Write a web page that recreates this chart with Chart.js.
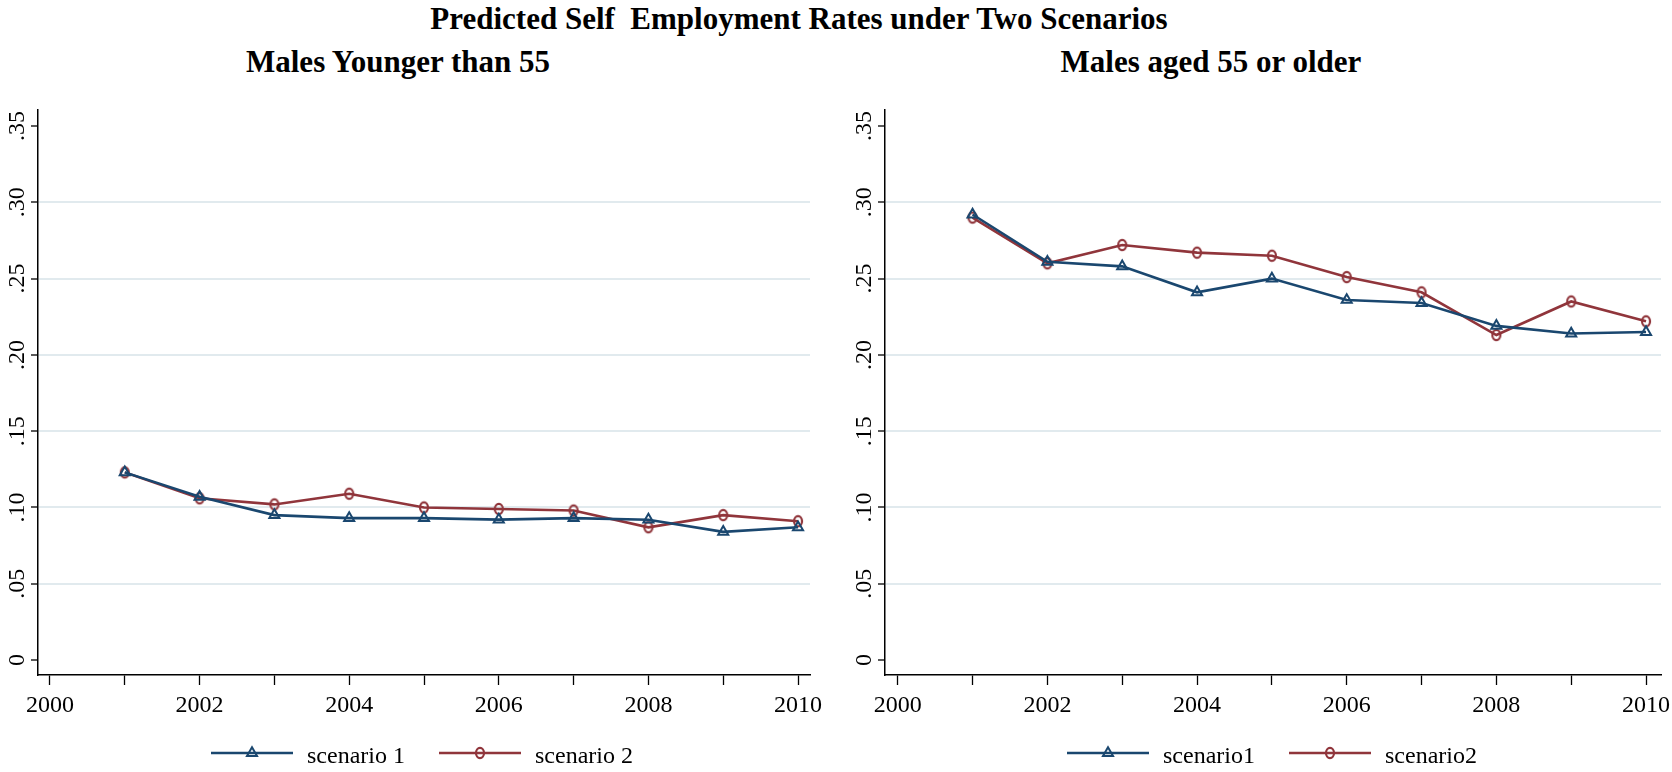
<!DOCTYPE html>
<html>
<head>
<meta charset="utf-8">
<script src="https://cdn.jsdelivr.net/npm/chart.js@4.4.0/dist/chart.umd.min.js"></script>
<style>
  body { margin: 0; background: #fff; width: 1672px; height: 772px; overflow: hidden; position: relative; font-family: 'Liberation Serif', serif; }
  .t { position: absolute; font-weight: bold; font-size: 31px; line-height: 31px; white-space: nowrap; transform: translateX(-50%); color: #000; }
  canvas { position: absolute; top: 0; }
</style>
</head>
<body>
<div class="t" style="left:799px;top:3px">Predicted Self&nbsp; Employment Rates under Two Scenarios</div>
<div class="t" style="left:398px;top:46px">Males Younger than 55</div>
<div class="t" style="left:1211px;top:46px">Males aged 55 or older</div>
<canvas id="young" width="836" height="772" style="left:0"></canvas>
<canvas id="older" width="836" height="772" style="left:836px"></canvas>
<script>
// values
const years = [2001, 2002, 2003, 2004, 2005, 2006, 2007, 2008, 2009, 2010];
const youngS1 = [0.123, 0.107, 0.095, 0.093, 0.093, 0.092, 0.093, 0.092, 0.084, 0.087];
const youngS2 = [0.123, 0.106, 0.102, 0.109, 0.100, 0.099, 0.098, 0.087, 0.095, 0.091];
const olderS1 = [0.292, 0.261, 0.258, 0.241, 0.250, 0.236, 0.234, 0.219, 0.214, 0.215];
const olderS2 = [0.290, 0.260, 0.272, 0.267, 0.265, 0.251, 0.241, 0.213, 0.235, 0.222];
const xTicks = [2000, 2001, 2002, 2003, 2004, 2005, 2006, 2007, 2008, 2009, 2010];
const yTicks = [0, 0.05, 0.10, 0.15, 0.20, 0.25, 0.30, 0.35];
const yLabels = ['0', '.05', '.10', '.15', '.20', '.25', '.30', '.35'];

const NAVY = '#1a476f';
const MAROON = '#90353b';
const GRID = '#e1eaee';
const FONT = 'Liberation Serif';

// hollow circle markers come out slightly taller than wide in the original
function hollowEllipse(color) {
  const c = document.createElement('canvas');
  c.width = 16; c.height = 18;
  const g = c.getContext('2d');
  g.strokeStyle = color; g.lineWidth = 2.2;
  g.beginPath(); g.ellipse(8, 9, 4, 5.1, 0, 0, Math.PI * 2); g.stroke();
  return c;
}

// rotated y tick labels (Stata style, reading upwards)
const yLabelPlugin = {
  id: 'yLabels',
  afterDraw(chart, args, opts) {
    const { ctx, scales: { y } } = chart;
    ctx.save();
    ctx.font = `24px ${FONT}`;
    ctx.fillStyle = '#000';
    ctx.textAlign = 'center';
    ctx.textBaseline = 'middle';
    yTicks.forEach((v, i) => {
      ctx.save();
      ctx.translate(y.right - opts.offset, y.getPixelForValue(v));
      ctx.rotate(-Math.PI / 2);
      ctx.fillText(yLabels[i], 0, 0);
      ctx.restore();
    });
    ctx.restore();
  },
};

// legend: line segment with marker in the middle, then the label
const lineLegend = {
  id: 'lineLegend',
  afterDraw(chart, args, opts) {
    const ctx = chart.ctx;
    ctx.save();
    chart.data.datasets.forEach((ds, i) => {
      const x0 = opts.x[i], y = opts.y;
      ctx.strokeStyle = ds.borderColor;
      ctx.lineWidth = ds.borderWidth;
      ctx.beginPath(); ctx.moveTo(x0, y); ctx.lineTo(x0 + opts.len, y); ctx.stroke();
      ctx.fillStyle = 'rgba(255,255,255,0)';
      ctx.lineWidth = ds.pointBorderWidth;
      Chart.helpers.drawPoint(ctx, { pointStyle: ds.pointStyle, radius: ds.pointRadius, borderWidth: ds.pointBorderWidth, rotation: 0 }, x0 + opts.len / 2, y);
      ctx.fillStyle = '#000';
      ctx.font = `24px ${FONT}`;
      ctx.textBaseline = 'alphabetic';
      ctx.textAlign = 'left';
      ctx.fillText(ds.label, x0 + opts.len + opts.gap, y + 10);
    });
    ctx.restore();
  },
};

function series(label, vals, color, style) {
  return {
    label, data: years.map((x, i) => ({ x, y: vals[i] })),
    borderColor: color, backgroundColor: '#fff', borderWidth: 2.6, tension: 0,
    pointStyle: style, pointRadius: 5.8, pointBorderWidth: 2,
    pointBackgroundColor: 'rgba(255,255,255,0)', pointBorderColor: color,
  };
}

function panel(id, s1, s2, names, g) {
  return new Chart(document.getElementById(id), {
    type: 'line',
    data: { datasets: [series(names[0], s1, NAVY, 'triangle'), series(names[1], s2, MAROON, hollowEllipse(MAROON))] },
    options: {
      responsive: false, animation: false, events: [],
      layout: { padding: { top: 110, right: g.right, bottom: 57, left: 0 } },
      plugins: {
        legend: { display: false }, tooltip: { enabled: false },
        yLabels: { offset: 20 },
        lineLegend: { x: g.legendX, y: 753, len: 82, gap: 14 },
      },
      scales: {
        x: {
          type: 'linear', min: g.xMin, max: g.xMax,
          afterBuildTicks: s => { s.ticks = xTicks.map(v => ({ value: v })); },
          afterFit: s => { s.height = 40; s.paddingLeft = 0; s.paddingRight = 0; },
          ticks: { callback: v => (v % 2 === 0 ? String(v) : ''), font: { family: FONT, size: 24 }, color: '#000', maxRotation: 0, autoSkip: false, padding: 6 },
          grid: { drawOnChartArea: false, tickLength: 10, tickColor: '#000', tickWidth: 1.3 },
          border: { color: '#000', width: 1.5 },
        },
        y: {
          min: -0.0098, max: 0.3605,
          afterBuildTicks: s => { s.ticks = yTicks.map(v => ({ value: v })); },
          afterFit: s => { s.width = g.yW; },
          ticks: { display: false },
          grid: {
            color: c => (c.tick && c.tick.value > 0.001 && c.tick.value < 0.34 ? GRID : 'rgba(0,0,0,0)'),
            lineWidth: 2, tickLength: 7, tickColor: '#000', tickWidth: 1.3,
          },
          border: { color: '#000', width: 1.5 },
        },
      },
    },
    plugins: [yLabelPlugin, lineLegend],
  });
}

panel('young', youngS1, youngS2, ['scenario 1', 'scenario 2'],
  { yW: 38, right: 26, xMin: 1999.84, xMax: 2010.16, legendX: [211, 439] });
panel('older', olderS1, olderS2, ['scenario1', 'scenario2'],
  { yW: 49, right: 11, xMin: 1999.83, xMax: 2010.2, legendX: [231, 453] });
</script>
</body>
</html>
